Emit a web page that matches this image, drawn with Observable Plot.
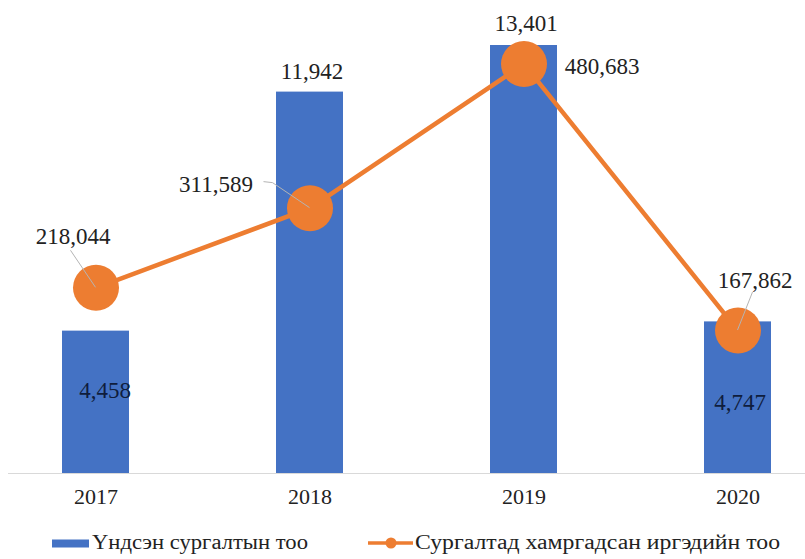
<!DOCTYPE html>
<html><head><meta charset="utf-8">
<script src="https://cdn.jsdelivr.net/npm/d3@7"></script>
<script src="https://cdn.jsdelivr.net/npm/@observablehq/plot@0.6"></script>
<style>
body{margin:0;background:#fff;font-family:"Liberation Serif","Times New Roman",serif}
#legend{display:block}
</style></head>
<body><div id="chart"></div><svg id="legend" width="805" height="44"></svg>
<script>
// ---- data ----
const years = ["2017", "2018", "2019", "2020"];
const trainings = [4458, 11942, 13401, 4747];          // bars (primary axis)
const participants = [218044, 311589, 480683, 167862]; // line (secondary axis)
const seriesNames = ["Үндсэн сургалтын тоо", "Сургалтад хамргадсан иргэдийн тоо"];
const primaryMax = 16000;
const secondaryMax = 600000;

// ---- styling / placement ----
const BLUE = "#4472C4", ORANGE = "#ED7D31";
const barLabelOffset = {"2017": [9, 60], "2018": [2, -20], "2019": [2, -22], "2020": [2, 81]};
const lineLabelOffset = {"2017": [-23, -51], "2018": [-94, -24], "2019": [78, 3], "2020": [17, -50]};
const leaders = {"2017": [[-25, -37]], "2018": [[-46, -26], [-37, -25]], "2020": [[15, -38]]};
const barLabelColor = {"2017": "#0f1d3d", "2018": "#222", "2019": "#222", "2020": "#0f1d3d"};

const toPrimary = d3.scaleLinear().domain([0, secondaryMax]).range([0, primaryMax]);

const data = years.map((y, i) => ({
  year: y, bar: trainings[i], line: participants[i], lineY: toPrimary(participants[i])
}));
const fmt = d3.format(",");

const leaderMark = (index, scales) => {
  const g = d3.create("svg:g");
  const bw = scales.x.bandwidth ? scales.x.bandwidth() : 0;
  for (const d of data) {
    const pts = leaders[d.year];
    if (!pts) continue;
    const cx = scales.x(d.year) + bw / 2, cy = scales.y(d.lineY);
    const path = pts.map(([dx, dy]) => [cx + dx, cy + dy]).concat([[cx, cy]]);
    g.append("path").attr("d", d3.line()(path)).attr("fill", "none")
      .attr("stroke", "#b4b4b4").attr("stroke-width", 1);
  }
  return g.node();
};

const chart = Plot.plot({
  width: 805, height: 515,
  marginLeft: 8, marginRight: 0, marginTop: 0, marginBottom: 42,
  style: {fontFamily: "'Liberation Serif','Times New Roman',serif", fontSize: "22px", color: "#222", background: "#fff"},
  x: {type: "band", domain: years, range: [95 - 107.17, 738 + 107.17], paddingInner: 0.687, paddingOuter: 0.3435,
      tickSize: 0, tickPadding: 15, label: null},
  y: {domain: [0, primaryMax], range: [473, -38], axis: null},
  marks: [
    Plot.barY(data, {x: "year", y: "bar", fill: BLUE}),
    Plot.ruleY([0], {stroke: "#d9d9d9", strokeWidth: 1}),
    Plot.line(data, {x: "year", y: "lineY", stroke: ORANGE, strokeWidth: 4.5}),
    Plot.dot(data, {x: "year", y: "lineY", r: 23, fill: ORANGE, stroke: "none"}),
    leaderMark,
    ...data.map(d => Plot.text([d], {x: "year", y: "bar", text: v => fmt(v.bar),
      dx: barLabelOffset[d.year][0], dy: barLabelOffset[d.year][1], fontSize: 23, fill: barLabelColor[d.year]})),
    ...data.map(d => Plot.text([d], {x: "year", y: "lineY", text: v => fmt(v.line),
      dx: lineLabelOffset[d.year][0], dy: lineLabelOffset[d.year][1], fontSize: 23, fill: "#222"}))
  ]
});
document.getElementById("chart").appendChild(chart);

// ---- legend (below the chart) ----
const lg = d3.select("#legend").style("font-family", "'Liberation Serif','Times New Roman',serif");
lg.append("rect").attr("x", 52).attr("y", 24.5).attr("width", 37).attr("height", 8).attr("fill", BLUE);
lg.append("text").attr("x", 92).attr("y", 34).attr("font-size", 20).attr("fill", "#222")
  .attr("textLength", 216).attr("lengthAdjust", "spacingAndGlyphs").text(seriesNames[0]);
lg.append("line").attr("x1", 368).attr("x2", 413).attr("y1", 28).attr("y2", 28)
  .attr("stroke", ORANGE).attr("stroke-width", 3.5);
lg.append("circle").attr("cx", 391).attr("cy", 28).attr("r", 5.5).attr("fill", ORANGE);
lg.append("text").attr("x", 415).attr("y", 34).attr("font-size", 20).attr("fill", "#222")
  .attr("textLength", 365).attr("lengthAdjust", "spacingAndGlyphs").text(seriesNames[1]);
</script>
</body></html>
